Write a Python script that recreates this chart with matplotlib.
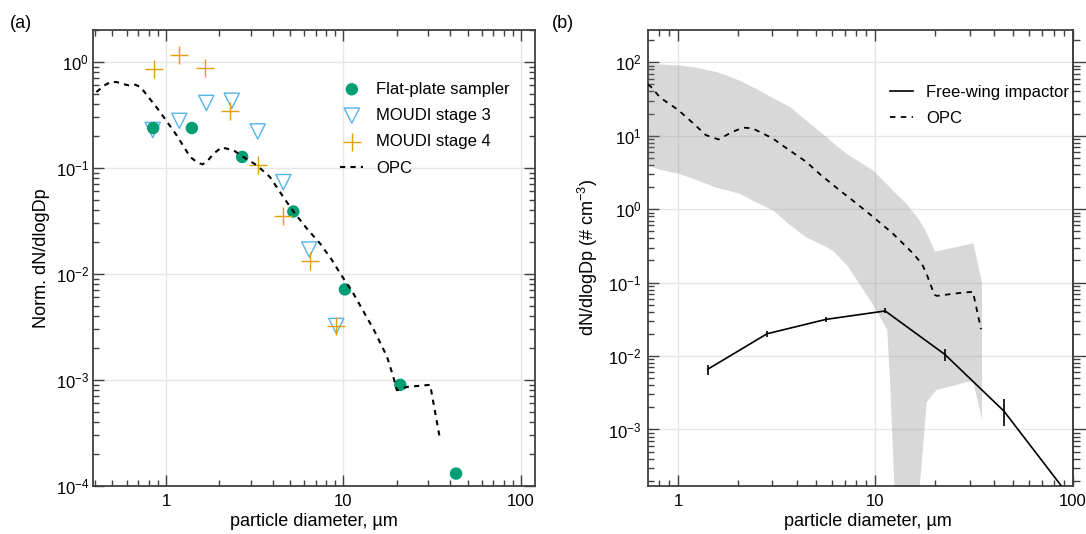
import matplotlib
matplotlib.use('Agg')
import numpy as np
import matplotlib.pyplot as plt
from matplotlib.ticker import LogLocator, NullFormatter, FuncFormatter
from matplotlib.lines import Line2D

plt.rcParams['font.family'] = ['Liberation Sans', 'DejaVu Sans']
plt.rcParams['mathtext.fontset'] = 'custom'
plt.rcParams['mathtext.rm'] = 'Liberation Sans'
plt.rcParams['mathtext.it'] = 'Liberation Sans:italic'
plt.rcParams['mathtext.bf'] = 'Liberation Sans:bold'
plt.rcParams['font.size'] = 12

# ---- panel (a): normalised size distributions
fp_d = [0.848, 1.40, 2.69, 5.22, 10.2, 20.9, 43.1]
fp_n = [0.238, 0.238, 0.127, 0.0388, 0.00715, 0.00090, 0.000131]

m3_d = [0.843, 1.19, 1.69, 2.35, 3.29, 4.59, 6.42, 9.12]
m3_n = [0.228, 0.278, 0.41, 0.43, 0.221, 0.0735, 0.0170, 0.00323]

m4_d = [0.852, 1.19, 1.66, 2.30, 3.30, 4.59, 6.52, 9.08]
m4_n = [0.862, 1.17, 0.868, 0.345, 0.107, 0.0349, 0.0133, 0.00323]

opc_a_d = [0.406, 0.45, 0.49, 0.53, 0.57, 0.62, 0.67, 0.72, 0.81, 0.90, 1.0, 1.15,
           1.37, 1.50, 1.61, 1.73, 1.85, 2.06, 2.40, 2.73, 3.25, 3.86, 4.59, 5.22,
           6.2, 7.4, 8.5, 9.6, 11.4, 13.0, 14.8, 17.6, 19.1, 20.0, 22.8, 30.8, 34.7]
opc_a_n = [0.52, 0.60, 0.65, 0.645, 0.62, 0.60, 0.61, 0.58, 0.45, 0.36, 0.282, 0.203,
           0.127, 0.113, 0.108, 0.118, 0.136, 0.156, 0.147, 0.127, 0.106, 0.082, 0.053, 0.039,
           0.027, 0.0193, 0.014, 0.0101, 0.0065, 0.0044, 0.0030, 0.00166, 0.00107, 0.00080,
           0.00086, 0.00090, 0.00030]

# ---- panel (b): absolute concentrations
opc_b_d = [0.70, 0.726, 0.81, 1.0, 1.2, 1.38, 1.6, 1.85, 2.12, 2.38, 3.01, 3.5, 4.44,
           5.3, 6.56, 8.0, 9.69, 12.2, 15.5, 17.2, 18.1, 19.9, 20.5, 26.5, 31.2, 34.3]
opc_b_n = [50, 46.6, 33, 22.4, 14.5, 10.2, 8.9, 11.0, 12.9, 12.6, 9.2, 6.9, 4.44,
           2.9, 1.82, 1.2, 0.79, 0.47, 0.25, 0.18, 0.134, 0.068, 0.066, 0.072, 0.075, 0.0231]

band_d = [0.70, 0.80, 1.0, 1.2, 1.38, 1.55, 1.8, 2.04, 2.48, 3.01, 3.66, 4.43, 5.62,
          6.1, 7.2, 8.0, 9.7, 11.4, 11.8, 12.5, 14.3, 16.6, 18.1, 19.9, 20.3, 30.0, 31.2, 34.5]
band_hi = [97, 95, 92, 87, 80, 75, 65, 57, 44, 33, 25, 16.4, 9.7,
           8.0, 5.6, 4.7, 3.4, 2.2, 2.0, 1.7, 1.2, 0.72, 0.48, 0.27, 0.27, 0.34, 0.35, 0.10]
band_lo = [4.0, 3.5, 3.08, 2.6, 2.25, 2.0, 1.8, 1.64, 1.25, 0.975, 0.62, 0.42, 0.31,
           0.27, 0.17, 0.11, 0.05, 0.023, 0.0043, 1.0e-4, 1.0e-5, 1.5e-4, 0.0024, 0.0033,
           0.0035, 0.0046, 0.0044, 0.0014]

fw_d = [1.41, 2.82, 5.62, 11.2, 22.5, 44.8, 90]
fw_n = [0.0066, 0.0201, 0.0316, 0.0411, 0.0105, 0.00178, 0.000155]
fw_lo = [0.00548, 0.0183, 0.0292, 0.0385, 0.00855, 0.00112, 0.000155]
fw_hi = [0.00755, 0.0219, 0.0342, 0.0447, 0.0123, 0.00257, 0.000155]

GREEN = '#009E73'
BLUE = '#56B4E9'
ORANGE = '#E69F00'
SPINE = '#404040'


def style_axes(ax, right_ticks=True, ypad=3):
    ax.set_xscale('log')
    ax.set_yscale('log')
    ax.grid(True, which='major', color='#e6e6e6', lw=1.0)
    ax.set_axisbelow(True)
    for s in ax.spines.values():
        s.set_color(SPINE)
        s.set_linewidth(1.3)
    ax.xaxis.set_major_locator(LogLocator(base=10, numticks=20))
    ax.xaxis.set_minor_locator(LogLocator(base=10, subs=np.arange(2, 10), numticks=100))
    ax.yaxis.set_major_locator(LogLocator(base=10, numticks=20))
    ax.yaxis.set_minor_locator(LogLocator(base=10, subs=np.arange(2, 10), numticks=100))
    ax.xaxis.set_major_formatter(FuncFormatter(lambda v, p: f'{v:g}'))
    ax.xaxis.set_minor_formatter(NullFormatter())
    ax.yaxis.set_minor_formatter(NullFormatter())
    ax.tick_params(which='both', direction='in', top=True, right=right_ticks,
                   color=SPINE, width=1.0, labelsize=12)
    ax.tick_params(which='major', length=8)
    ax.tick_params(which='minor', length=4)
    ax.tick_params(axis='x', pad=6)
    ax.tick_params(axis='y', pad=ypad)


fig = plt.figure(figsize=(10.86, 5.34), dpi=100)
ax1 = fig.add_axes([93.3 / 1086, 48 / 534, 441.7 / 1086, 456 / 534])
ax2 = fig.add_axes([648.3 / 1086, 48 / 534, 424.4 / 1086, 456 / 534])

# panel (a)
style_axes(ax1)
ax1.scatter(m3_d, m3_n, marker='v', s=120, facecolors='none', edgecolors=BLUE,
            linewidths=1.0, zorder=3, label='MOUDI stage 3')
ax1.scatter(fp_d, fp_n, marker='o', s=80, color=GREEN, edgecolors='none',
            zorder=4, label='Flat-plate sampler')
ax1.scatter(m4_d, m4_n, marker='+', s=160, color=ORANGE, linewidths=1.0,
            zorder=5, label='MOUDI stage 4')
ax1.plot(opc_a_d, opc_a_n, color='black', lw=1.5, ls=(0, (2.5, 2.5)), zorder=6, label='OPC')
ax1.set_xlim(0.39, 120)
ax1.set_ylim(1e-4, 2.0)
ax1.set_xlabel('particle diameter, µm', fontsize=13)
ax1.xaxis.set_label_coords(0.5, -0.078)
ax1.xaxis.label.set_va('center')
ax1.set_ylabel('Norm. dN/dlogDp', fontsize=13)
ax1.yaxis.set_label_coords(-0.098, 0.5)
h, l = ax1.get_legend_handles_labels()
order = [l.index('Flat-plate sampler'), l.index('MOUDI stage 3'),
         l.index('MOUDI stage 4'), l.index('OPC')]
ax1.legend([h[i] for i in order], [l[i] for i in order], loc='upper left',
           bbox_to_anchor=(0.540, 0.905), frameon=False, borderpad=0,
           handlelength=1.4, handletextpad=0.75, labelspacing=0.68, fontsize=12)

# panel (b)
style_axes(ax2, right_ticks=False, ypad=5)
ax2.fill_between(band_d, band_lo, band_hi, color='gray', alpha=0.3, lw=0, zorder=1)
ax2.plot(opc_b_d, opc_b_n, color='black', lw=1.3, ls=(0, (3, 3)), zorder=3)
ax2.plot(fw_d, fw_n, color='black', lw=1.2, zorder=4)
fw_err = [np.array(fw_n) - np.array(fw_lo), np.array(fw_hi) - np.array(fw_n)]
ax2.errorbar(fw_d, fw_n, yerr=fw_err, fmt='none', ecolor='black', elinewidth=1.2,
             capsize=0, zorder=4)
ax2.set_xlim(0.705, 100)
ax2.set_ylim(1.7e-4, 275)
ax2.set_xlabel('particle diameter, µm', fontsize=13)
ax2.xaxis.set_label_coords(0.518, -0.078)
ax2.xaxis.label.set_va('center')
ax2.set_ylabel('dN/dlogDp (# cm$^{-3}$)', fontsize=13)
ax2.yaxis.set_label_coords(-0.114, 0.5)
sec = ax2.secondary_yaxis('right')
sec.yaxis.set_major_locator(LogLocator(base=10, numticks=20))
sec.yaxis.set_minor_locator(LogLocator(base=10, subs=np.arange(2, 10), numticks=100))
sec.yaxis.set_major_formatter(NullFormatter())
sec.yaxis.set_minor_formatter(NullFormatter())
sec.tick_params(which='both', direction='out', color=SPINE, width=1.0)
sec.tick_params(which='major', length=9)
sec.tick_params(which='minor', length=5)
sec.spines['right'].set_color(SPINE)
sec.spines['right'].set_linewidth(1.3)
legend_b = [Line2D([], [], color='black', lw=1.2),
            Line2D([], [], color='black', lw=1.3, ls=(0, (3, 3)))]
ax2.legend(legend_b, ['Free-wing impactor', 'OPC'], loc='upper left',
           bbox_to_anchor=(0.55, 0.897), frameon=False, borderpad=0,
           handlelength=1.4, handletextpad=0.75, labelspacing=0.62, fontsize=12)

fig.text(21 / 1086, 1 - 23 / 534, '(a)', ha='center', va='center', fontsize=13)
fig.text(563 / 1086, 1 - 23 / 534, '(b)', ha='center', va='center', fontsize=13)

fig.savefig('out.png', dpi=100)
